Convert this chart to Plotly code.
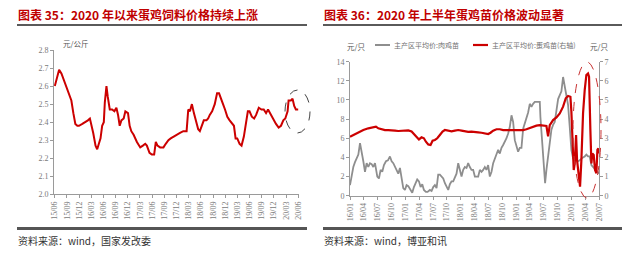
import plotly.graph_objects as go

# ---------------- Data: left chart (蛋鸡饲料价格, 元/公斤) ----------------
# x = months elapsed since 2015-06
feed_month = [0.0,1.06,1.63,2.12,2.53,2.94,3.51,4.08,4.57,5.06,5.55,5.96,6.78,7.59,8.16,8.65,8.98,9.47,10.04,10.45,
              10.86,11.27,11.67,12.08,12.33,12.73,13.06,13.55,14.12,14.69,15.18,15.59,16.0,16.41,16.98,17.39,18.04,18.45,18.86,19.43,
              20.24,21.06,21.71,22.29,22.69,23.35,23.92,24.49,24.90,25.31,25.96,26.78,27.35,28.0,28.57,29.22,30.04,30.86,31.67,32.49,
              32.90,33.31,33.80,34.29,34.78,35.35,35.76,36.33,36.73,37.39,37.80,38.20,38.78,39.43,40.0,40.49,40.90,41.47,41.96,42.53,
              43.10,43.67,44.16,44.57,44.98,45.55,46.04,46.61,47.18,47.59,48.0,48.57,49.14,49.63,50.29,50.94,51.51,52.08,52.57,53.06,
              53.55,53.96,54.53,55.18,55.76,56.33,56.82,57.39,57.63,58.2,58.61,59.02,59.43,60.0]
feed_price = [2.60,2.69,2.67,2.64,2.61,2.58,2.55,2.52,2.45,2.39,2.38,2.38,2.39,2.40,2.41,2.42,2.39,2.34,2.27,2.25,
              2.28,2.31,2.38,2.40,2.51,2.60,2.54,2.47,2.47,2.46,2.48,2.44,2.38,2.41,2.42,2.46,2.45,2.38,2.35,2.33,
              2.29,2.26,2.27,2.28,2.27,2.23,2.22,2.22,2.29,2.27,2.26,2.26,2.28,2.30,2.31,2.32,2.33,2.34,2.35,2.35,
              2.47,2.46,2.50,2.45,2.40,2.36,2.35,2.38,2.41,2.41,2.42,2.44,2.46,2.50,2.56,2.56,2.53,2.50,2.47,2.43,
              2.41,2.39,2.38,2.31,2.31,2.28,2.27,2.32,2.41,2.46,2.46,2.43,2.42,2.44,2.48,2.47,2.47,2.45,2.47,2.45,
              2.43,2.41,2.39,2.37,2.38,2.41,2.42,2.46,2.52,2.52,2.53,2.49,2.47,2.47]
left_ticktext = ["15/06","15/09","15/12","16/03","16/06","16/09","16/12","17/03","17/06","17/09","17/12",
                 "18/03","18/06","18/09","18/12","19/03","19/06","19/09","19/12","20/03","20/06"]

# ---------------- Data: right chart (鸡苗价格, 元/只) ----------------
# x = months elapsed since 2016-01
broiler_month = [0.0,0.36,0.72,1.08,1.44,1.81,2.17,2.53,2.89,3.25,3.61,3.97,4.33,4.69,5.05,5.42,5.92,6.28,6.64,7.0,
                 7.36,7.80,8.23,8.66,9.03,9.39,9.75,10.11,10.47,10.83,11.19,11.55,11.91,12.27,12.64,13.14,13.50,13.86,14.22,14.58,
                 14.95,15.31,15.67,16.03,16.46,16.82,17.33,17.69,18.05,18.41,18.77,19.13,19.49,19.86,20.22,20.58,20.94,21.30,21.66,22.02,
                 22.38,22.74,23.10,23.47,23.83,24.19,24.55,24.91,25.27,25.63,25.99,26.35,26.71,27.08,27.44,27.80,28.16,28.52,28.88,29.24,
                 29.60,29.96,30.32,30.69,31.05,31.41,31.77,32.13,32.49,32.85,33.21,33.57,33.94,34.30,34.66,35.02,35.38,35.74,36.10,36.46,
                 36.82,37.18,37.55,37.91,38.27,38.63,38.99,39.35,39.71,40.07,40.43,40.79,41.16,41.30,41.66,42.02,42.31,42.60,42.96,43.32,
                 43.68,44.04,44.40,44.77,45.13,45.49,45.85,46.21,46.57,46.93,47.29,47.65,48.01,48.38,48.74,49.10,49.46,49.82,50.18,50.54,
                 50.90,51.26,51.62,51.99,52.35,52.71,53.07,53.43,54.0]
broiler_price = [1.1,2.3,3.0,3.5,3.9,4.3,5.5,4.3,3.6,2.5,3.4,3.0,3.4,3.3,3.0,3.4,2.0,1.8,2.7,2.5,
                 3.2,3.6,3.7,4.1,3.6,3.4,3.0,2.7,2.3,2.9,1.8,0.8,0.6,1.1,1.0,0.6,0.3,0.9,1.3,1.7,
                 1.5,0.9,1.2,0.6,0.4,0.4,0.6,0.5,0.9,1.1,0.8,2.2,2.2,2.0,1.8,1.3,0.9,0.6,1.2,1.5,
                 1.5,2.0,2.3,3.4,2.7,2.0,2.7,3.0,2.9,3.4,3.0,2.7,2.7,2.0,2.0,2.0,2.7,2.5,2.7,3.0,
                 2.7,3.2,2.0,2.5,3.4,3.9,4.4,4.8,4.4,5.0,5.3,5.6,6.0,6.5,7.2,8.4,7.7,5.8,5.1,4.6,
                 5.0,5.0,7.0,7.5,8.1,8.7,9.6,9.3,9.6,9.8,9.8,9.8,9.8,8.2,5.8,3.4,1.3,2.7,4.1,5.5,
                 6.9,7.4,7.7,8.9,10.1,10.5,10.9,12.4,11.4,10.5,9.5,7.2,4.8,3.9,3.7,3.7,3.6,3.7,3.9,4.0,
                 4.1,4.3,4.1,4.1,3.2,3.0,2.7,2.5,2.3]
layer_month = [0.0,0.72,1.44,2.17,2.89,3.97,5.05,5.63,6.14,6.86,7.58,8.30,9.03,9.75,10.47,11.55,12.64,13.36,14.08,14.58,
               14.95,15.52,16.03,16.46,16.97,17.47,17.91,18.41,18.92,19.49,20.07,20.58,21.30,22.02,22.74,23.47,24.19,24.91,25.63,26.35,
               27.08,27.80,28.52,29.24,29.96,30.47,31.05,31.77,32.49,33.21,33.94,35.02,36.10,36.82,37.55,38.27,38.99,39.71,40.43,41.16,
               41.88,42.60,42.96,43.32,43.68,44.04,44.77,45.49,46.21,46.79,47.29,47.80,48.01,48.23,48.52,48.74,49.03,49.24,49.46,49.68,
               49.89,50.18,50.54,50.90,51.26,51.62,51.84,52.13,52.35,52.56,52.85,53.14,53.43,53.65,53.86,54.0]
layer_price = [3.08,3.17,3.26,3.35,3.43,3.52,3.57,3.61,3.52,3.47,3.43,3.43,3.43,3.40,3.38,3.40,3.41,3.35,3.17,3.00,
               2.94,3.05,3.00,2.82,2.68,2.65,2.87,2.91,3.00,3.17,3.35,3.43,3.40,3.36,3.40,3.43,3.40,3.36,3.33,3.35,
               3.31,3.31,3.29,3.26,3.22,3.29,3.40,3.47,3.47,3.43,3.43,3.43,3.43,3.40,3.43,3.47,3.54,3.61,3.66,3.69,
               3.66,3.64,3.10,3.69,3.82,3.95,4.09,4.30,4.65,5.09,5.21,5.17,4.39,2.56,1.34,1.69,3.17,1.86,1.34,0.64,
               0.47,1.86,4.30,5.52,6.31,6.39,6.22,3.43,1.69,2.21,2.13,1.34,1.17,2.39,2.47,2.21]
right_ticktext = ["16/01","16/04","16/07","16/10","17/01","17/04","17/07","17/10","18/01","18/04",
                  "18/07","18/10","19/01","19/04","19/07","19/10","20/01","20/04","20/07"]

W, H = 640, 255
def px(x): return x / W
def py(y): return 1 - y / H

RED = "#CC0000"
GRAY_LINE = "#8E8E8E"
AX = "#9A9A9A"
TICKFONT = dict(family="Liberation Serif", size=8, color="#7A7A7A")

fig = go.Figure()
fig.add_trace(go.Scatter(x=feed_month, y=feed_price, mode="lines", xaxis="x", yaxis="y",
                         line=dict(color=RED, width=2), showlegend=False))
fig.add_trace(go.Scatter(x=broiler_month, y=broiler_price, mode="lines", xaxis="x2", yaxis="y2",
                         line=dict(color=GRAY_LINE, width=1.8), showlegend=False))
fig.add_trace(go.Scatter(x=layer_month, y=layer_price, mode="lines", xaxis="x2", yaxis="y3",
                         line=dict(color=RED, width=2.2), showlegend=False))

axis_common = dict(showgrid=False, zeroline=False, showline=True, linecolor=AX, linewidth=1,
                   ticks="outside", ticklen=3, tickcolor=AX, tickfont=TICKFONT, automargin=False)

fig.update_layout(
    width=W, height=H, autosize=False,
    margin=dict(l=0, r=0, t=0, b=0),
    paper_bgcolor="white", plot_bgcolor="white",
    xaxis=dict(domain=[px(54), px(299)], range=[-0.2, 60.2], anchor="y",
               tickvals=list(range(0, 61, 3)), ticktext=left_ticktext, tickangle=-90, **axis_common),
    yaxis=dict(domain=[py(194.3), py(50)], range=[2.0, 2.8], dtick=0.1, tickformat=".1f", anchor="x",
               **axis_common),
    xaxis2=dict(domain=[px(350), px(599)], range=[0, 54], anchor="y2",
                tickvals=list(range(0, 55, 3)), ticktext=right_ticktext, tickangle=-90, **axis_common),
    yaxis2=dict(domain=[py(195.7), py(61.7)], range=[0, 14], dtick=2, anchor="x2", **axis_common),
    yaxis3=dict(range=[0, 7], dtick=1, overlaying="y2", side="right", anchor="x2", **axis_common),
)

ann = []
def text(x, y, s, size, color, family="Noto Sans CJK SC", xanchor="left"):
    ann.append(dict(x=px(x), y=py(y), xref="paper", yref="paper", text=s, showarrow=False,
                    xanchor=xanchor, yanchor="middle", font=dict(family=family, size=size, color=color)))

text(16, 14.5, "<b>图表 35：2020 年以来蛋鸡饲料价格持续上涨</b>", 12, "#C00000")
text(322, 14.5, "<b>图表 36：2020 年上半年蛋鸡苗价格波动显著</b>", 12, "#C00000")
text(61, 43, "元/公斤", 7.5, "#555555")
text(345, 46.5, "元/只", 7.5, "#555555")
text(588, 46.5, "元/只", 7.5, "#555555")
text(392, 45, "主产区平均价:肉鸡苗", 7, "#707070")
text(490, 45, "主产区平均价:蛋鸡苗(右轴)", 7, "#707070")
text(16, 240, "资料来源：wind，国家发改委", 10, "#333333")
text(322, 240, "资料来源：wind，博亚和讯", 10, "#333333")
fig.update_layout(annotations=ann)

shapes = []
def hline(x0, x1, y, color, width):
    shapes.append(dict(type="line", xref="paper", yref="paper", x0=px(x0), x1=px(x1), y0=py(y), y1=py(y),
                       line=dict(color=color, width=width)))
hline(17, 307, 25, "#5A5A5A", 2)
hline(323, 622, 25, "#5A5A5A", 2)
hline(17, 307, 228.5, "#555555", 3)
hline(323, 622, 228.5, "#555555", 3)
hline(375, 390, 45, GRAY_LINE, 2)
hline(473, 488, 45, RED, 2.2)
shapes.append(dict(type="circle", xref="paper", yref="paper", x0=px(285), x1=px(310), y0=py(133), y1=py(90),
                   line=dict(color="#444444", width=1, dash="dash")))
shapes.append(dict(type="circle", xref="paper", yref="paper", x0=px(573), x1=px(601), y0=py(198), y1=py(62),
                   line=dict(color="#C83232", width=1, dash="dash")))
fig.update_layout(shapes=shapes)

fig.write_html("out.html")
